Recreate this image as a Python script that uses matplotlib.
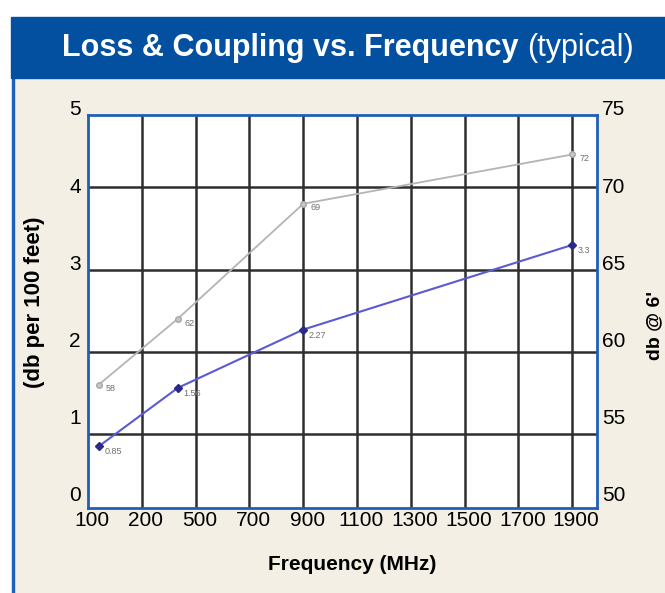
import numpy as np
import matplotlib
matplotlib.use("Agg")
import matplotlib.pyplot as plt
import matplotlib.patches as mpatches
from matplotlib.transforms import ScaledTranslation

plt.rcParams["font.family"] = ["Liberation Sans", "DejaVu Sans"]

# frequency axis is categorical-looking: evenly spaced ticks
freq_ticks = [100, 200, 500, 700, 900, 1100, 1300, 1500, 1700, 1900]
loss_ticks = [0, 1, 2, 3, 4, 5]
coupling_ticks = [50, 55, 60, 65, 70, 75]

freq = [120, 400, 900, 1900]
loss = [0.85, 1.56, 2.27, 3.3]          # db per 100 feet (left axis)
coupling = [58, 62, 69, 72]             # db @ 6' (right axis)
loss_text = ["0.85", "1.56", "2.27", "3.3"]
coupling_text = ["58", "62", "69", "72"]

BLUE = "#0450a0"
BEIGE = "#f3efe5"

fig = plt.figure(figsize=(6.65, 5.93), dpi=100, facecolor="white")

# background panel and title banner
fig.patches.append(mpatches.Rectangle((14 / 665, 0), 1, (593 - 78) / 593,
                                      transform=fig.transFigure, color=BEIGE, zorder=-3))
fig.patches.append(mpatches.Rectangle((12 / 665, 0), 2.2 / 665, (593 - 78) / 593,
                                      transform=fig.transFigure, color="#1f5fb5", zorder=-2))
fig.patches.append(mpatches.Rectangle((11 / 665, (593 - 78) / 593), 1, 61 / 593,
                                      transform=fig.transFigure, color=BLUE, zorder=-2))
fig.text(62 / 665, 1 - 56 / 593, "Loss & Coupling vs. Frequency", color="white",
         fontsize=22, fontweight="bold", va="baseline", ha="left")
fig.text(634 / 665, 1 - 56 / 593, "(typical)", color="white",
         fontsize=22, va="baseline", ha="right")

ax = fig.add_axes([88 / 665, (593 - 508) / 593, 509 / 665, 393 / 593])
ax.set_facecolor("white")

xpos = np.interp(freq, freq_ticks, np.arange(len(freq_ticks)))
ax.set_xlim(0, 9.46)
ax.set_ylim(0.10, 4.88)

# grid
for i in range(1, len(freq_ticks)):
    ax.axvline(i, color="#2e2e2e", lw=1.8, zorder=1)
for v in loss_ticks[1:-1]:
    ax.axhline(v, color="#2e2e2e", lw=1.8, zorder=1)

ax.set_xticks(np.arange(len(freq_ticks)))
ax.set_xticklabels([str(f) for f in freq_ticks], fontsize=15)
ax.tick_params(axis="x", length=0, pad=2)
for lbl in ax.get_xticklabels():
    lbl.set_transform(lbl.get_transform() + ScaledTranslation(4 / 100, 0, fig.dpi_scale_trans))
ax.set_yticks([])

for s in ax.spines.values():
    s.set_color("#1f5fb5")
    s.set_linewidth(2)
    s.set_zorder(5)

# right axis for coupling
ax2 = ax.twinx()
lo, hi = ax.get_ylim()
ax2.set_ylim(50 + lo * 5, 50 + hi * 5)
ax2.set_yticks([])
for s in ax2.spines.values():
    s.set_visible(False)

# axis tick labels, evenly stacked along the side
label_frac = np.linspace(0.031, 1.013, len(loss_ticks))
for v, yf in zip(loss_ticks, label_frac):
    ax.text(-0.014, yf, str(v), transform=ax.transAxes, ha="right", va="center",
            fontsize=15, clip_on=False)
for v, yf in zip(coupling_ticks, label_frac):
    ax.text(1.01, yf, str(v), transform=ax.transAxes, ha="left", va="center",
            fontsize=15, clip_on=False)

# series
ax2.plot(xpos, coupling, color="#b4b4b4", lw=1.3, marker="o", ms=4,
         mfc="#c8c8c8", mec="#a8a8a8", zorder=3)
ax.plot(xpos, loss, color="#5a5ad2", lw=1.5, marker="D", ms=4,
        mfc="#2a2a8a", mec="#2a2a8a", zorder=4)

for x, y, t in zip(xpos, coupling, coupling_text):
    ax2.annotate(t, (x, y), xytext=(5, -3), textcoords="offset points",
                 fontsize=6.5, color="#707070", va="center", zorder=6)
for x, y, t in zip(xpos, loss, loss_text):
    ax.annotate(t, (x, y), xytext=(4, -4), textcoords="offset points",
                fontsize=6.5, color="#707070", va="center", zorder=6)

fig.text(352 / 665, 1 - 565 / 593, "Frequency (MHz)", ha="center", va="center",
         fontsize=15, fontweight="bold")
fig.text(35 / 665, 1 - 302 / 593, "(db per 100 feet)", ha="center", va="center",
         rotation=90, fontsize=16, fontweight="bold")
fig.text(655 / 665, 1 - 325 / 593, "db @ 6'", ha="center", va="center",
         rotation=90, fontsize=14, fontweight="bold")

fig.savefig("out.png", dpi=100, facecolor=fig.get_facecolor())
